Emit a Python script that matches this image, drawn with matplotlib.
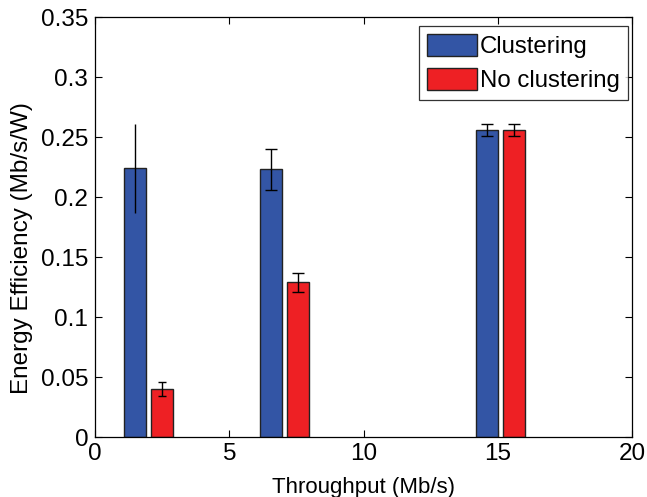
import matplotlib
matplotlib.use("Agg")
import matplotlib.pyplot as plt
import numpy as np

plt.rcParams['font.family'] = ['Liberation Sans', 'DejaVu Sans']

throughput = [2.0, 7.05, 15.1]
clustering = [0.224, 0.223, 0.256]
clustering_err = [0.037, 0.017, 0.005]
no_clustering = [0.040, 0.129, 0.256]
no_clustering_err = [0.006, 0.008, 0.005]
labels = ["Clustering", "No clustering"]

fig = plt.figure(figsize=(6.47, 4.97), dpi=100)
ax = fig.add_axes([0.147, 0.1207, 0.83, 0.845])

x = np.array(throughput)
w = 0.82
blue = '#3355A5'
red = '#EE2024'
ax.bar(x - 0.5, clustering, width=w, color=blue, edgecolor='#222222', linewidth=1.0, label=labels[0], zorder=2)
ax.bar(x + 0.5, no_clustering, width=w, color=red, edgecolor='#222222', linewidth=1.0, label=labels[1], zorder=2)
caps_b = [0, 4, 4]
caps_r = [3, 4, 4]
for i in range(len(x)):
    ax.errorbar(x[i] - 0.5, clustering[i], yerr=clustering_err[i], fmt='none', ecolor='black',
                elinewidth=1, capsize=caps_b[i], capthick=1, zorder=3)
    ax.errorbar(x[i] + 0.5, no_clustering[i], yerr=no_clustering_err[i], fmt='none', ecolor='black',
                elinewidth=1, capsize=caps_r[i], capthick=1, zorder=3)

ax.set_xlim(0, 20)
ax.set_ylim(0, 0.35)
ax.set_xticks([0, 5, 10, 15, 20])
ax.set_yticks([0, 0.05, 0.1, 0.15, 0.2, 0.25, 0.3, 0.35])
ax.set_yticklabels(['0', '0.05', '0.1', '0.15', '0.2', '0.25', '0.3', '0.35'])
ax.tick_params(direction='in', top=True, right=True, labelsize=17.5, length=5, width=0.8)
ax.tick_params(axis='y', pad=5)
ax.tick_params(axis='x', pad=4)
for s in ax.spines.values():
    s.set_linewidth(0.9)
ax.set_xlabel('Throughput (Mb/s)', fontsize=16, labelpad=9)
ax.set_ylabel('Energy Efficiency (Mb/s/W)', fontsize=17.5)
ax.yaxis.set_label_coords(-0.115, 0.45)

leg = ax.legend(loc='upper right', bbox_to_anchor=(0.9926, 0.9786), borderaxespad=0,
                fontsize=17.3, frameon=True, fancybox=False, edgecolor='black',
                handlelength=2.1, handleheight=1.0, labelspacing=0.4,
                handletextpad=0.1, borderpad=0.35)
leg.get_frame().set_linewidth(0.9)

fig.savefig('out.png', dpi=100)
